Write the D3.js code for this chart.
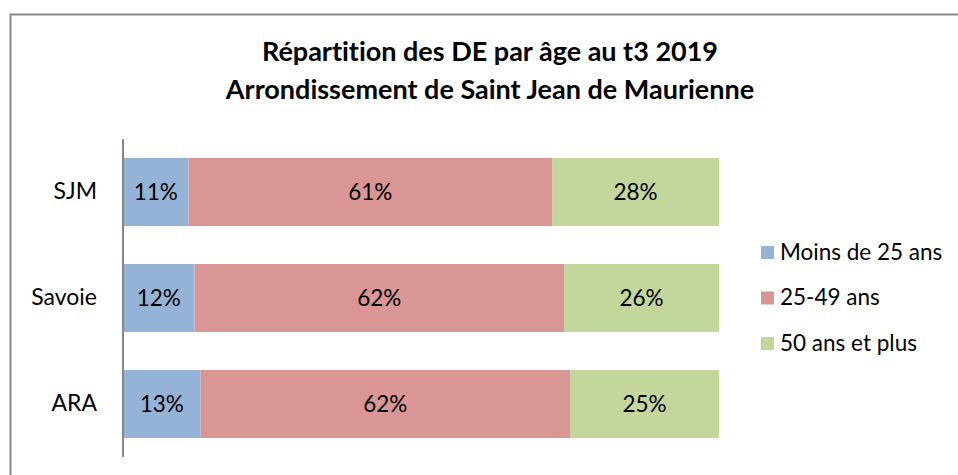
<!DOCTYPE html>
<html>
<head>
<meta charset="utf-8">
<script src="https://cdn.jsdelivr.net/npm/d3@7"></script>
<style>
  html, body { margin: 0; padding: 0; background: #fff; }
  svg { display: block; }
  text { font-family: Lato, "Open Sans", sans-serif; fill: #000; font-variant-ligatures: none; }
</style>
</head>
<body>
<svg id="chart" width="958" height="475"></svg>
<script>
// Job seekers by age group, third quarter 2019
const categories = ["SJM", "Savoie", "ARA"];
const seriesNames = ["Moins de 25 ans", "25-49 ans", "50 ans et plus"];
const seriesColors = ["#95B3D7", "#D99694", "#C3D69B"];
const under25 = [11, 12, 13];
const from25to49 = [61, 62, 62];
const over50 = [28, 26, 25];
const titleLines = ["Répartition des DE par âge au t3 2019", "Arrondissement de Saint Jean de Maurienne"];

const rows = categories.map((c, i) => ({
  cat: c,
  [seriesNames[0]]: under25[i],
  [seriesNames[1]]: from25to49[i],
  [seriesNames[2]]: over50[i]
}));

const svg = d3.select("#chart");

// chart frame
svg.append("path")
  .attr("d", "M10.5,475 V14.5 H958")
  .attr("fill", "none")
  .attr("stroke", "#878787")
  .attr("stroke-width", 2);

// title
svg.append("g").selectAll("text")
  .data(titleLines)
  .join("text")
  .attr("x", 490)
  .attr("y", (d, i) => 61 + i * 38)
  .attr("text-anchor", "middle")
  .attr("font-size", 27)
  .attr("font-weight", "bold")
  .text(d => d);

const plot = { left: 123, top: 139, width: 596, height: 318 };

const x = d3.scaleLinear().domain([0, 100]).range([plot.left, plot.left + plot.width]);
const y = d3.scaleBand().domain(categories).range([plot.top, plot.top + plot.height]).paddingInner(0.358).paddingOuter(0.179);

const stack = d3.stack().keys(seriesNames);
const layers = stack(rows);

const gLayers = svg.append("g").selectAll("g")
  .data(layers)
  .join("g")
  .attr("fill", (d, i) => seriesColors[i]);

gLayers.selectAll("rect")
  .data(d => d)
  .join("rect")
  .attr("x", d => x(d[0]))
  .attr("y", d => y(d.data.cat))
  .attr("width", d => x(d[1]) - x(d[0]))
  .attr("height", y.bandwidth());

// value labels
svg.append("g").selectAll("g")
  .data(layers)
  .join("g")
  .selectAll("text")
  .data(d => d.map(v => ({ v, key: d.key })))
  .join("text")
  .attr("x", d => (x(d.v[0]) + x(d.v[1])) / 2)
  .attr("y", d => y(d.v.data.cat) + y.bandwidth() / 2)
  .attr("dy", "0.35em")
  .attr("text-anchor", "middle")
  .attr("font-size", 22.5)
  .text(d => d.v.data[d.key] + "%");

// category axis
const axis = svg.append("g")
  .attr("transform", `translate(${plot.left},0)`)
  .call(d3.axisLeft(y).tickSize(0).tickPadding(26));
axis.select(".domain").attr("stroke", "#878787").attr("stroke-width", 2)
  .attr("d", `M0,${plot.top} V${plot.top + plot.height}`);
axis.selectAll("text")
  .attr("font-size", 23)
  .attr("font-family", "Lato, 'Open Sans', sans-serif")
  .attr("fill", "#000");

// legend
const legend = svg.append("g").selectAll("g")
  .data(seriesNames)
  .join("g")
  .attr("transform", (d, i) => `translate(761,${252 + i * 45.5})`);
legend.append("rect")
  .attr("x", 0).attr("y", -6)
  .attr("width", 13).attr("height", 13)
  .attr("fill", (d, i) => seriesColors[i]);
legend.append("text")
  .attr("x", 19)
  .attr("dy", "0.35em")
  .attr("font-size", 22.5)
  .text(d => d);
</script>
</body>
</html>
